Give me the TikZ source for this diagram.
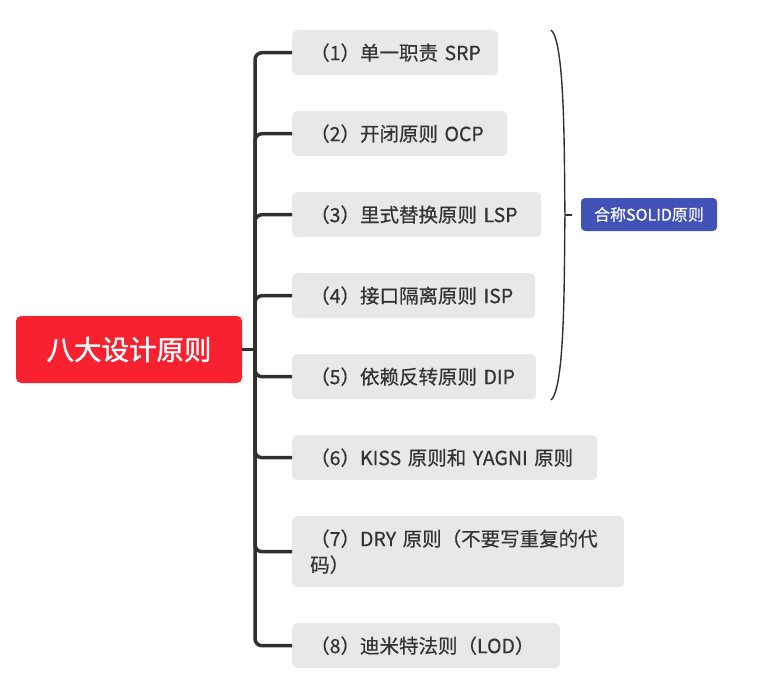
\documentclass[tikz,border=0pt]{standalone}
\usepackage{fontspec}
\setmainfont{Noto Sans CJK SC}
\newfontfamily\medfont{Noto Sans CJK SC}[FakeBold=0.5]
\newfontfamily\rootfont{Noto Sans CJK SC}[FakeBold=1.2]
\definecolor{rootred}{HTML}{F72130}
\definecolor{boxgray}{HTML}{E8E8E8}
\definecolor{txt}{HTML}{333333}
\definecolor{conncol}{HTML}{303030}
\definecolor{sumblue}{HTML}{4152B7}
\begin{document}
\begin{tikzpicture}[x=1pt,y=-1pt,
  rootbox/.style={fill=rootred, rounded corners=5pt, text=white, font=\rootfont\fontsize{27.5}{30}\selectfont,
    minimum width=226pt, minimum height=67pt, inner sep=0pt},
  childbox/.style={fill=boxgray, rounded corners=5pt, text=txt, anchor=north west,
    font=\medfont\fontsize{19.5}{26}\selectfont, align=left, inner xsep=18pt, inner ysep=0pt,
    text width=#1-36pt, minimum height=45pt},
  sumbox/.style={fill=sumblue, rounded corners=4pt, text=white, font=\medfont\fontsize{16}{18}\selectfont,
    minimum width=136pt, minimum height=33pt, inner sep=0pt},
  conn/.style={draw=conncol, line width=3.5pt, rounded corners=7pt},
  bracecol/.style={draw=conncol, line width=1.4pt}
]
\useasboundingbox (0,0) rectangle (763,698);
\node[rootbox] (root) at (129,349.5) {八大设计原则};
\node[childbox=206pt] (c1) at (292,30) {\mbox{（1）单一职责 SRP}};
\node[childbox=215pt] (c2) at (292,111) {\mbox{（2）开闭原则 OCP}};
\node[childbox=249pt] (c3) at (292,192) {\mbox{（3）里式替换原则 LSP}};
\node[childbox=243pt] (c4) at (292,273) {\mbox{（4）接口隔离原则 ISP}};
\node[childbox=244pt] (c5) at (292,354) {\mbox{（5）依赖反转原则 DIP}};
\node[childbox=305pt] (c6) at (292,435) {\mbox{（6）KISS 原则和 YAGNI 原则}};
\node[childbox=332pt, minimum height=71pt] (c7) at (292,516) {\mbox{（7）DRY 原则（不要写重复的代}\\\mbox{码）}};
\node[childbox=268pt] (c8) at (292,623) {\mbox{（8）迪米特法则（LOD）}};
\node[sumbox] (sum) at (649,214.5) {合称SOLID原则};
\coordinate (t) at (255,349.5);
\draw[conn, rounded corners=0pt] (root.east) -- ([xshift=1.75pt]t);
\foreach \c in {c1,c2,c3,c4,c5,c6,c7,c8}{
  \draw[conn] (t) |- (\c.west);
}
\coordinate (btop) at (551,30);
\coordinate (bmid) at (565,215);
\coordinate (bbot) at (551,400);
\coordinate (btick) at (572,215);
\draw[bracecol] (btop) .. controls (566,42) and (564,170) .. (bmid)
  .. controls (564,260) and (566,388) .. (bbot);
\draw[bracecol] (bmid) -- (btick);
\end{tikzpicture}
\end{document}
